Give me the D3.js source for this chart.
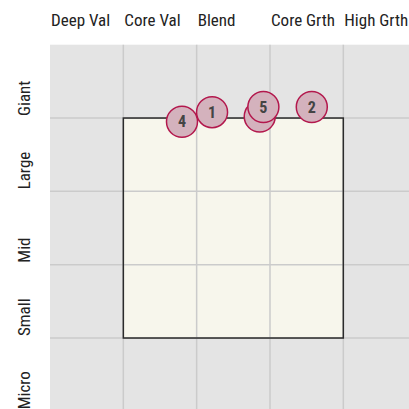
<!DOCTYPE html>
<html>
<head>
<meta charset="utf-8">
<script src="https://cdn.jsdelivr.net/npm/d3@7"></script>
<style>
    body { margin: 0; background: #fff; }
    svg { display: block; }
    text { font-family: 'Roboto Condensed', 'Liberation Sans Narrow', 'Arial Narrow', Roboto, sans-serif; font-stretch: condensed; }
</style>
</head>
<body>
<div id="chart"></div>
<script>
// style / size grid categories
const styles = ['Deep Val', 'Core Val', 'Blend', 'Core Grth', 'High Grth'];
const sizes = ['Giant', 'Large', 'Mid', 'Small', 'Micro'];

// box spanning the grid (in cell units)
const boxStyle = [1, 4];
const boxSize = [1, 4];

// holdings, positioned in cell units (0..5 across, 0..5 down)
const labels = ['1', '2', '3', '4', '5'];
const styleScore = [2.21, 3.57, 2.86, 1.80, 2.91];
const sizeScore = [0.92, 0.85, 0.98, 1.05, 0.85];

const width = 409, height = 409;
const gridLeft = 50, gridTop = 44.7, cell = 73.33;

const svg = d3.select('#chart').append('svg')
    .attr('width', width)
    .attr('height', height);

const x = d3.scaleLinear().domain([0, 5]).range([gridLeft, gridLeft + 5 * cell]);
const y = d3.scaleLinear().domain([0, 5]).range([gridTop, gridTop + 5 * cell]);

// grey background
svg.append('rect')
    .attr('x', x(0)).attr('y', y(0))
    .attr('width', x(5) - x(0)).attr('height', y(5) - y(0))
    .style('fill', '#e4e4e4');

// box fill
svg.append('rect')
    .attr('x', x(boxStyle[0])).attr('y', y(boxSize[0]))
    .attr('width', x(boxStyle[1]) - x(boxStyle[0]))
    .attr('height', y(boxSize[1]) - y(boxSize[0]))
    .style('fill', '#f7f6ec');

// grid lines
const ticks = d3.range(1, 5);
svg.selectAll('.vline').data(ticks).enter().append('line')
    .attr('class', 'vline')
    .attr('x1', d => x(d)).attr('x2', d => x(d))
    .attr('y1', y(0)).attr('y2', y(5))
    .style('stroke', '#cbcbcb').style('stroke-width', 1.5);
svg.selectAll('.hline').data(ticks).enter().append('line')
    .attr('class', 'hline')
    .attr('y1', d => y(d)).attr('y2', d => y(d))
    .attr('x1', x(0)).attr('x2', x(5))
    .style('stroke', '#cbcbcb').style('stroke-width', 1.5);

// box outline
svg.append('rect')
    .attr('x', x(boxStyle[0])).attr('y', y(boxSize[0]))
    .attr('width', x(boxStyle[1]) - x(boxStyle[0]))
    .attr('height', y(boxSize[1]) - y(boxSize[0]))
    .style('fill', 'none')
    .style('stroke', '#2b2b2b')
    .style('stroke-width', 1.5);

// column labels
svg.selectAll('.colLabel').data(styles).enter().append('text')
    .attr('class', 'colLabel')
    .attr('x', (d, i) => x(i) + 1)
    .attr('y', 26)
    .style('font-size', '17px')
    .style('fill', '#222')
    .text(d => d);

// row labels
svg.selectAll('.rowLabel').data(sizes).enter().append('text')
    .attr('class', 'rowLabel')
    .attr('transform', (d, i) => `translate(30,${y(i + 1) - 2}) rotate(-90)`)
    .style('font-size', '17px')
    .style('fill', '#222')
    .text(d => d);

// holdings
const points = labels.map((d, i) => ({ label: d, sx: styleScore[i], sy: sizeScore[i] }));
const node = svg.selectAll('.node').data(points).enter().append('g')
    .attr('class', 'node')
    .attr('transform', d => `translate(${x(d.sx)},${y(d.sy)})`);

node.append('circle')
    .attr('r', 15.5)
    .style('fill', '#d4b2bd')
    .style('stroke', '#b3184d')
    .style('stroke-width', 1.5);

node.append('text')
    .attr('text-anchor', 'middle')
    .attr('dy', '.36em')
    .style('font-size', '16px')
    .style('font-weight', 'bold')
    .style('fill', '#444')
    .text(d => d.label);
</script>
</body>
</html>
